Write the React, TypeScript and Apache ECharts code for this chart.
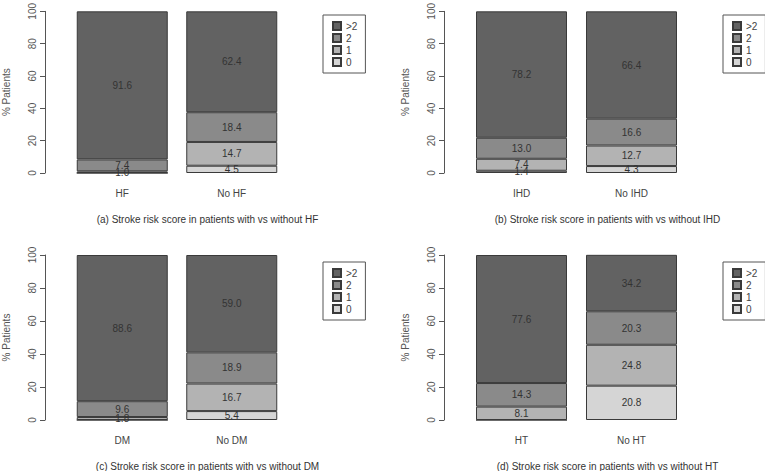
import React, { useEffect, useRef } from "react";
import * as echarts from "echarts";

const panelCategories = [
  ["HF", "No HF"],
  ["IHD", "No IHD"],
  ["DM", "No DM"],
  ["HT", "No HT"],
];
const score0 = [[0, 4.5], [1.4, 4.3], [0, 5.4], [0, 20.8]];
const score1 = [[1.0, 14.7], [7.4, 12.7], [1.8, 16.7], [8.1, 24.8]];
const score2 = [[7.4, 18.4], [13.0, 16.6], [9.6, 18.9], [14.3, 20.3]];
const scoreOver2 = [[91.6, 62.4], [78.2, 66.4], [88.6, 59.0], [77.6, 34.2]];
const seriesNames = ["0", "1", "2", ">2"];
const legendOrder = [">2", "2", "1", "0"];
const yTicks = [0, 20, 40, 60, 80, 100];
const captions = [
  "(a) Stroke risk score in patients with vs without HF",
  "(b) Stroke risk score in patients with vs without IHD",
  "(c) Stroke risk score in patients with vs without DM",
  "(d) Stroke risk score in patients with vs without HT",
];

const FONT = "'Liberation Sans', Arial, sans-serif";
const fills = ["#d5d5d5", "#b3b3b3", "#8a8a8a", "#626262"];
const panelX = [0, 400, 0, 400];
const panelY = [0, 0, 247, 247];

export default function App() {
  const ref = useRef<HTMLDivElement>(null);
  useEffect(() => {
    if (!ref.current) return;
    const chart = echarts.init(ref.current, undefined, { renderer: "svg" });
    const grids: any[] = [];
    const xAxes: any[] = [];
    const yAxes: any[] = [];
    const series: any[] = [];
    const legends: any[] = [];
    const graphics: any[] = [];
    const allScores = [score0, score1, score2, scoreOver2];
    for (let i = 0; i < 4; i++) {
      const px = panelX[i];
      const py = panelY[i];
      grids.push({ left: 66.5 + px, top: 8 + py, width: 220, height: 165 });
      xAxes.push({
        type: "category",
        gridIndex: i,
        data: panelCategories[i],
        axisLine: { show: false },
        axisTick: { show: false },
        axisLabel: { margin: 15, fontSize: 10, color: "#444", fontFamily: FONT },
      });
      yAxes.push({
        type: "value",
        gridIndex: i,
        min: yTicks[0],
        max: yTicks[yTicks.length - 1],
        interval: 20,
        offset: 22.5,
        axisLine: { show: true, lineStyle: { color: "#555", width: 1 } },
        axisTick: { show: true, length: 5, lineStyle: { color: "#555" } },
        splitLine: { show: false },
        axisLabel: { rotate: 90, margin: 8, fontSize: 10, color: "#555", fontFamily: FONT },
        name: "% Patients",
        nameLocation: "middle",
        nameGap: 34,
        nameTextStyle: { fontSize: 10, color: "#555", fontFamily: FONT },
      });
      for (let s = 0; s < 4; s++) {
        series.push({
          type: "bar",
          name: seriesNames[s],
          xAxisIndex: i,
          yAxisIndex: i,
          stack: "panel" + i,
          barWidth: 91,
          data: allScores[s][i],
          itemStyle: { color: fills[s], borderColor: "#3a3a3a", borderWidth: 1 },
          label: {
            show: true,
            position: "inside",
            fontSize: 10,
            color: "#333",
            fontFamily: FONT,
            formatter: (p: any) => (p.value ? Number(p.value).toFixed(1) : ""),
          },
        });
      }
      legends.push({
        left: 323 + px,
        top: 15 + py,
        orient: "vertical",
        data: legendOrder,
        selectedMode: false,
        icon: "rect",
        itemWidth: 8,
        itemHeight: 8,
        itemGap: 0,
        itemTextGap: 7,
        padding: [5, 8, 5, 9],
        borderColor: "#555",
        borderWidth: 1,
        textStyle: { fontSize: 10, color: "#444", fontFamily: FONT, lineHeight: 12 },
      });
      graphics.push({
        type: "text",
        x: 207.5 + px,
        y: 219 + py,
        style: {
          text: captions[i],
          fontSize: 10,
          fontFamily: FONT,
          fill: "#333",
          align: "center",
          verticalAlign: "middle",
        },
      });
    }
    chart.setOption({
      animation: false,
      backgroundColor: "#ffffff",
      grid: grids,
      xAxis: xAxes,
      yAxis: yAxes,
      series,
      legend: legends,
      graphic: graphics,
    });
    return () => chart.dispose();
  }, []);
  return (
    <div
      ref={ref}
      style={{ position: "fixed", left: 0, top: 0, width: 765, height: 471 }}
    />
  );
}
